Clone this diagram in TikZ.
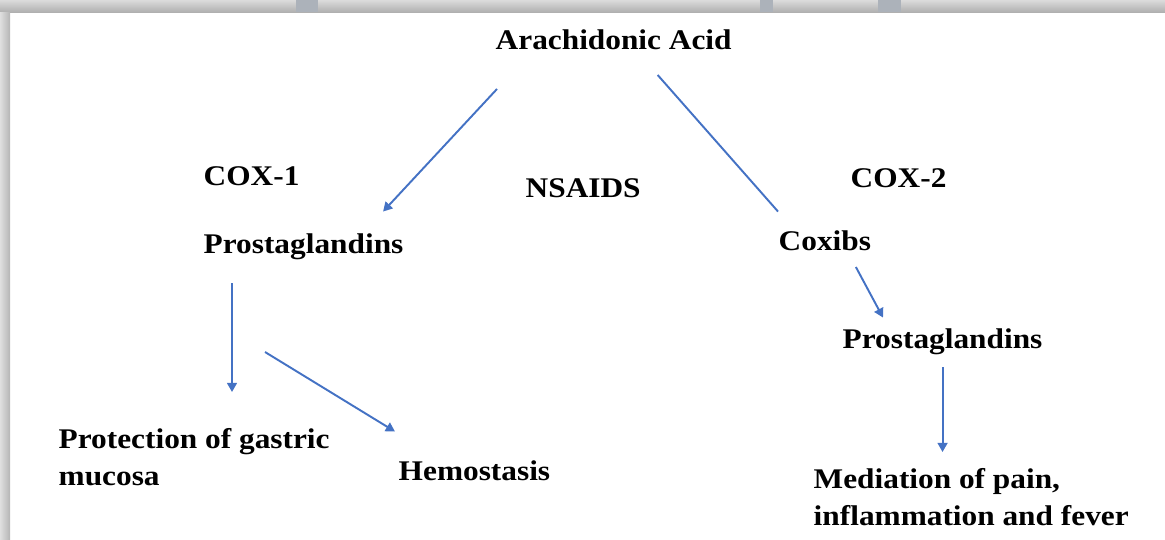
\documentclass[tikz,border=0pt]{standalone}
\usepackage{fontspec}
\setmainfont{Liberation Serif}[FakeStretch=1.1]
\usetikzlibrary{arrows.meta,calc}

\definecolor{arrowblue}{RGB}{68,114,196}
\definecolor{markgray}{RGB}{172,178,186}

\tikzset{
  lbl/.style={font=\fontsize{8.1}{10.5}\selectfont\bfseries, inner sep=0pt, anchor=base west},
  flow/.style={draw=arrowblue, line width=0.55pt, -{Triangle[length=2.6pt,width=2.8pt]}},
  link/.style={draw=arrowblue, line width=0.55pt}
}

\begin{document}
\begin{tikzpicture}[x=0.01cm,y=-0.01cm]
\useasboundingbox (0,0) rectangle (1165,539);

% frame edges
\shade[top color=gray!28, bottom color=gray!62] (0,0) rectangle (1165,12);
\shade[left color=gray!25, right color=gray!58] (0,12) rectangle (10,539);
\fill[markgray] (296,0) rectangle (318,12);
\fill[markgray] (878,0) rectangle (901,12);
\fill[markgray] (760,0) rectangle (773,12);

% labels
\node[lbl] (aa) at (495,49) {Arachidonic Acid};
\node[lbl] (cox1) at (203,185) {COX-1};
\node[lbl] (nsaids) at (525,197) {NSAIDS};
\node[lbl] (cox2) at (850,187) {COX-2};
\node[lbl] (pgl1) at (203,253) {Prostaglandins};
\node[lbl] (coxibs) at (778,250) {Coxibs};
\node[lbl] (pgl2) at (842,348) {Prostaglandins};
\node[lbl, anchor=north west, align=left] (mucosa) at (58,428) {Protection of gastric\\mucosa};
\node[lbl] (hemo) at (398,480) {Hemostasis};
\node[lbl, anchor=north west, align=left] (pain) at (813,468) {Mediation of pain,\\inflammation and fever};

% connectors
\draw[flow] ($(aa.south west)+(2,39)$) -- ($(pgl1.north east)+(-21,-21)$);
\draw[link] ($(aa.south)+(44,25)$) -- ($(coxibs.north west)+(0,-18)$);
\draw[flow] ($(pgl1.south west)+(29,23)$) -- ($(mucosa.north west)+(174,-36)$);
\draw[flow] ($(pgl1.south west)+(62,92)$) -- ($(hemo.north west)+(-3,-28)$);
\draw[flow] ($(coxibs.south)+(31,16)$) -- ($(pgl2.north west)+(41,-10)$);
\draw[flow] ($(pgl2.south)+(0,12)$) -- ($(pgl2.south |- pain.north)+(0,-16)$);
\end{tikzpicture}
\end{document}
